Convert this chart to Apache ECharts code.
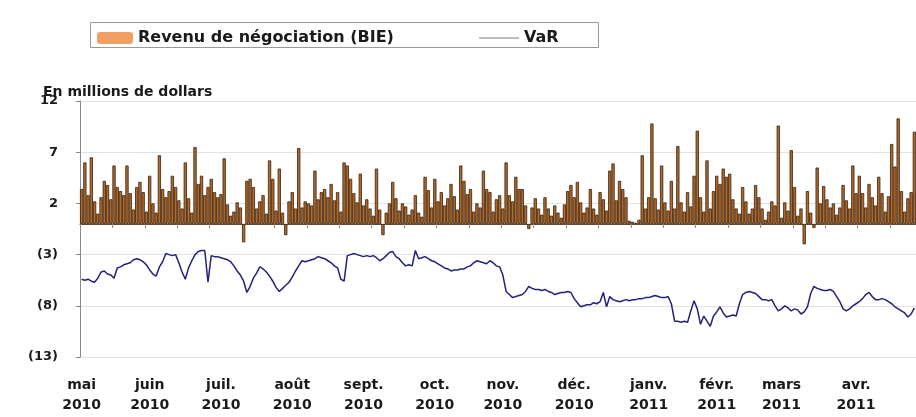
<!DOCTYPE html>
<html>
<head>
<meta charset="utf-8">
<script src="https://cdn.jsdelivr.net/npm/echarts@6/dist/echarts.min.js"></script>
<style>
html,body{margin:0;padding:0;background:#fff;}
#chart{width:916px;height:417px;}
</style>
</head>
<body>
<div id="chart"></div>
<script>
// Daily trading revenue (TEB), millions of dollars, May 3 2010 - Apr 27 2011
const revenue = [
  3.4, 6.0, 2.8, 6.5, 2.2, 1.0, 2.6, 4.2, 3.8, 2.4,
  5.7, 3.6, 3.2, 2.8, 5.7, 3.0, 1.4, 3.6, 4.1, 3.1,
  1.2, 4.7, 2.0, 1.1, 6.7, 3.4, 2.6, 3.2, 4.7, 3.6,
  2.3, 1.5, 6.0, 2.5, 1.1, 7.5, 3.9, 4.7, 2.8, 3.6,
  4.4, 3.1, 2.6, 2.9, 6.4, 1.9, 0.8, 1.2, 2.1, 1.6,
  -1.8, 4.2, 4.4, 3.6, 1.5, 2.2, 2.8, 1.0, 6.2, 4.4,
  1.3, 5.4, 1.1, -1.1, 2.2, 3.1, 1.5, 7.4, 1.6, 2.2,
  2.0, 1.8, 5.2, 2.4, 3.1, 3.4, 2.6, 3.9, 2.3, 3.1,
  1.2, 6.0, 5.7, 4.4, 3.0, 2.1, 4.9, 1.8, 2.4, 1.5,
  0.8, 5.4, 1.4, -1.1, 1.1, 2.0, 4.1, 2.5, 1.3, 2.0,
  1.7, 0.9, 1.4, 2.8, 1.1, 0.7, 4.6, 3.3, 1.6, 4.4,
  2.2, 3.1, 1.8, 2.5, 3.9, 2.7, 1.4, 5.7, 4.2, 2.9,
  3.4, 1.2, 2.0, 1.6, 5.2, 3.4, 3.1, 1.2, 2.4, 2.8,
  1.5, 6.0, 2.8, 2.2, 4.6, 3.4, 3.4, 1.8, -0.5, 1.6,
  2.5, 1.5, 0.9, 2.6, 1.5, 0.8, 1.8, 1.1, 0.6, 1.9,
  3.2, 3.8, 2.6, 4.1, 2.1, 1.1, 1.6, 3.4, 1.5, 0.9,
  3.1, 2.4, 1.3, 5.2, 5.9, 2.3, 4.2, 3.4, 2.6, 0.3,
  0.2, 0.1, 0.4, 6.7, 1.5, 2.6, 9.8, 2.5, 1.4, 5.7,
  2.1, 1.3, 4.2, 1.5, 7.6, 2.1, 1.2, 3.1, 1.7, 4.7,
  9.1, 2.6, 1.2, 6.2, 1.5, 3.2, 4.7, 3.9, 5.4, 4.6,
  4.9, 2.4, 1.5, 1.0, 3.6, 2.2, 1.0, 1.5, 3.8, 2.6,
  1.5, 0.4, 1.2, 2.2, 1.8, 9.6, 0.6, 2.1, 1.3, 7.2,
  3.6, 0.8, 1.5, -2.0, 3.2, 1.1, -0.4, 5.5, 2.0, 3.7,
  2.4, 1.6, 2.0, 0.9, 1.6, 3.8, 2.3, 1.5, 5.7, 3.0,
  4.7, 3.0, 1.6, 3.9, 2.6, 1.8, 4.6, 3.0, 1.2, 2.7,
  7.8, 5.6, 10.3, 3.2, 1.2, 2.5, 3.1, 9.0
];

// Value at risk, millions of dollars
const varValues = [
  -5.4, -5.5, -5.4, -5.6, -5.7, -5.3, -4.7, -4.6, -4.9, -5.0,
  -5.3, -4.3, -4.2, -4.0, -3.9, -3.8, -3.5, -3.4, -3.5, -3.7,
  -4.0, -4.5, -4.9, -5.1, -4.2, -3.7, -2.9, -3.0, -3.1, -3.0,
  -3.8, -4.7, -5.4, -4.3, -3.6, -3.0, -2.7, -2.6, -2.6, -5.7,
  -3.1, -3.2, -3.2, -3.3, -3.4, -3.5, -3.7, -4.1, -4.6, -5.0,
  -5.6, -6.7, -6.1, -5.3, -4.8, -4.2, -4.4, -4.7, -5.1, -5.6,
  -6.2, -6.6, -6.3, -6.0, -5.7, -5.2, -4.6, -4.1, -3.6, -3.7,
  -3.6, -3.5, -3.4, -3.2, -3.3, -3.4, -3.6, -3.8, -4.1, -4.3,
  -5.4, -5.6, -3.1, -3.0, -2.9, -3.0, -3.1, -3.2, -3.1, -3.2,
  -3.1, -3.3, -3.6, -3.4, -3.1, -2.8, -2.7, -3.2, -3.4, -3.8,
  -4.1, -4.0, -4.1, -2.6, -3.4, -3.3, -3.2, -3.4, -3.6, -3.7,
  -3.9, -4.1, -4.3, -4.4, -4.6, -4.5, -4.5, -4.4, -4.4, -4.2,
  -4.1, -3.8, -3.6, -3.7, -3.8, -3.9, -3.6, -3.8, -4.1, -4.2,
  -5.0, -6.6, -6.9, -7.2, -7.1, -7.0, -6.9, -6.6, -6.1, -6.3,
  -6.4, -6.4, -6.5, -6.4, -6.6, -6.7, -6.9, -6.8, -6.7, -6.7,
  -6.6, -6.7, -7.3, -7.7, -8.1, -8.0, -7.9, -7.9, -7.7, -7.8,
  -7.6, -6.7, -8.1, -7.1, -7.4, -7.5, -7.6, -7.5, -7.4, -7.5,
  -7.4, -7.4, -7.3, -7.3, -7.2, -7.2, -7.1, -7.0, -7.1, -7.2,
  -7.2, -7.1, -7.8, -9.5, -9.5, -9.6, -9.5, -9.6, -8.5, -7.5,
  -8.3, -9.8, -9.0, -9.5, -10.0, -9.0, -8.6, -8.1, -8.7, -9.1,
  -9.0, -8.9, -9.0, -7.8, -6.9, -6.7, -6.6, -6.7, -6.8, -7.1,
  -7.4, -7.4, -7.5, -7.4, -8.0, -8.5, -8.3, -8.0, -8.2, -8.5,
  -8.3, -8.4, -8.8, -8.6, -8.1, -6.8, -6.1, -6.3, -6.4, -6.5,
  -6.5, -6.4, -6.6, -7.1, -7.6, -8.3, -8.5, -8.3, -8.0, -7.8,
  -7.6, -7.3, -6.9, -6.7, -7.1, -7.4, -7.4, -7.3, -7.4, -7.6,
  -7.8, -8.1, -8.3, -8.5, -8.7, -9.1, -8.8, -8.2
];

const monthNames = ['janv.', 'févr.', 'mars', 'avr.', 'mai', 'juin', 'juil.', 'août', 'sept.', 'oct.', 'nov.', 'déc.'];
const seriesNames = ['Revenu de négociation (BIE)', 'VaR'];
const yTicks = { min: -13, max: 12, interval: 5 };

// trading-day categories (weekdays) starting 3 May 2010
const days = [];
{
  let d = new Date(Date.UTC(2010, 4, 3));
  while (days.length < revenue.length) {
    const wd = d.getUTCDay();
    if (wd !== 0 && wd !== 6) {
      days.push(d.getUTCFullYear() + '-' + String(d.getUTCMonth() + 1).padStart(2, '0') + '-' + String(d.getUTCDate()).padStart(2, '0'));
    }
    d = new Date(d.getTime() + 86400000);
  }
}
const firstOfMonth = new Set();
days.forEach((s, i) => { if (i === 0 || s.slice(0, 7) !== days[i - 1].slice(0, 7)) firstOfMonth.add(i); });

const FONT = 'DejaVu Sans';
const chart = echarts.init(document.getElementById('chart'), null, { renderer: 'canvas' });
chart.setOption({
  backgroundColor: '#ffffff',
  animation: false,
  textStyle: { fontFamily: FONT },
  title: {
    text: 'En millions de dollars',
    left: 38, top: 80,
    textStyle: { fontSize: 14, fontWeight: 'bold', color: '#1a1a1a', fontFamily: FONT }
  },
  graphic: [{
    type: 'rect',
    shape: { x: 90.5, y: 22.5, width: 508, height: 25 },
    style: { fill: 'none', stroke: '#9a9a9a', lineWidth: 1 },
    silent: true
  }],
  legend: [{
    left: 92, top: 25,
    itemWidth: 36, itemHeight: 12, itemGap: 8,
    data: [{ name: seriesNames[0], itemStyle: { color: '#f2a061', borderWidth: 0 } }],
    textStyle: { fontSize: 16, fontWeight: 'bold', color: '#1a1a1a', fontFamily: FONT }
  }, {
    left: 474, top: 25,
    itemWidth: 40, itemHeight: 12,
    data: [{ name: seriesNames[1], icon: 'path://M0,5.5 L40,5.5 L40,6.5 L0,6.5 Z', itemStyle: { color: '#7a7a7a' } }],
    textStyle: { fontSize: 16, fontWeight: 'bold', color: '#1a1a1a', fontFamily: FONT }
  }],
  grid: { left: 80, right: 0, top: 101, bottom: 60, containLabel: false },
  xAxis: [{
    type: 'category',
    data: days,
    boundaryGap: true,
    axisLine: { show: true, onZero: true, lineStyle: { color: '#5a4a3a', width: 1 } },
    axisTick: { show: true, interval: 9, length: 4, lineStyle: { color: '#8a8a8a' } },
    axisLabel: { show: false },
    splitLine: { show: false }
  }, {
    type: 'category',
    data: days,
    position: 'bottom',
    boundaryGap: true,
    axisLine: { show: false, onZero: false },
    axisTick: { show: false },
    axisLabel: {
      show: true,
      interval: (i) => firstOfMonth.has(i),
      margin: 18,
      fontSize: 14, fontWeight: 'bold', color: '#1a1a1a', lineHeight: 20, fontFamily: FONT,
      formatter: (v) => monthNames[parseInt(v.slice(5, 7), 10) - 1] + '\n' + v.slice(0, 4)
    },
    splitLine: { show: false }
  }],
  yAxis: {
    type: 'value',
    min: yTicks.min, max: yTicks.max, interval: yTicks.interval,
    axisLine: { show: true, lineStyle: { color: '#8a8a8a' } },
    axisTick: { show: true, length: 4, lineStyle: { color: '#8a8a8a' } },
    axisLabel: {
      margin: 22, fontSize: 13, fontWeight: 'bold', color: '#1a1a1a', fontFamily: FONT,
      formatter: (v) => v < 0 ? '(' + (-v) + ')' : String(v)
    },
    splitLine: { show: true, lineStyle: { color: '#e2e2e2', width: 1 } }
  },
  series: [{
    name: seriesNames[0],
    type: 'bar',
    xAxisIndex: 0,
    data: revenue,
    barCategoryGap: '0%',
    itemStyle: { color: '#b06a2c', borderColor: '#3a200a', borderWidth: 0.8 },
    z: 2
  }, {
    name: seriesNames[1],
    type: 'line',
    xAxisIndex: 0,
    data: varValues,
    symbol: 'none',
    lineStyle: { color: '#22227a', width: 1.5 },
    itemStyle: { color: '#22227a' },
    z: 3
  }]
});
</script>
</body>
</html>
